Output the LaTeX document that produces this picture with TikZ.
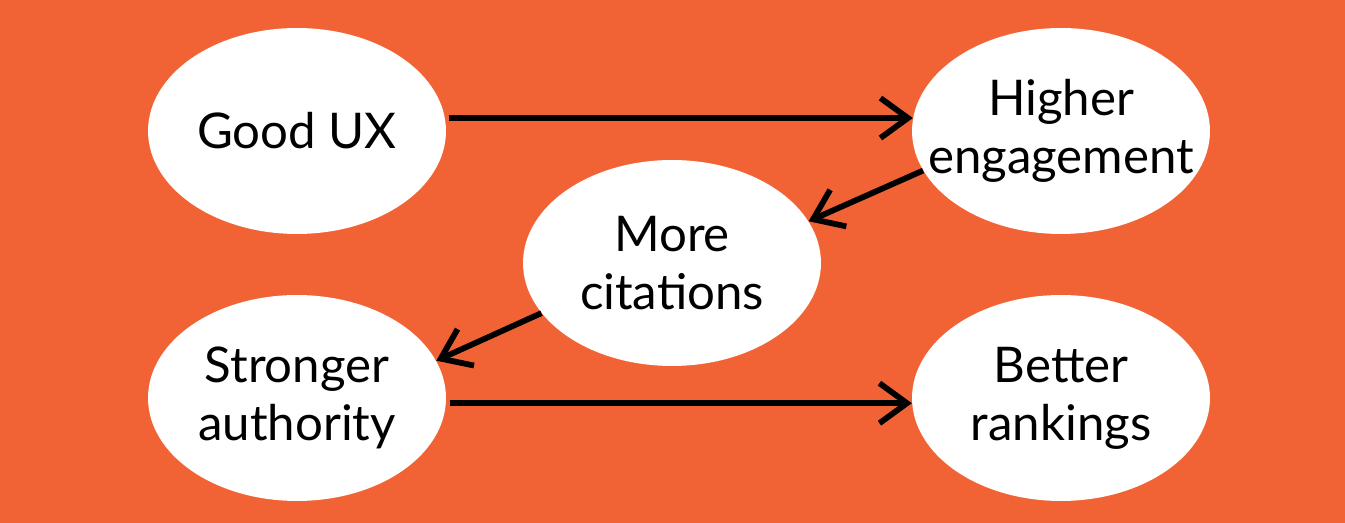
\documentclass[tikz,border=0pt]{standalone}
\usepackage{fontspec}
\setmainfont{Lato}
\usetikzlibrary{shapes.geometric,arrows.meta}
\definecolor{bgorange}{RGB}{241,99,53}
\tikzstyle{bubble} = [ellipse, fill=white, minimum width=5.96cm, minimum height=4.12cm, inner sep=0pt]
\tikzstyle{txt} = [align=center, font=\fontsize{28}{33}\selectfont]
\tikzstyle{link} = [line width=3.3pt, -{Straight Barb[length=5.5mm,width=8mm]}]

\begin{document}
\begin{tikzpicture}[x=0.02cm,y=0.02cm]
\fill[bgorange] (0,0) rectangle (1345,523);
\node[bubble] (gux) at (297,392) {};
\node[bubble] (he) at (1061,392) {};
\node[bubble] (mc) at (672,260) {};
\node[bubble] (sa) at (297,125) {};
\node[bubble] (br) at (1061,125) {};
\node[txt] (gux-t) at (gux) {Good UX};
\node[txt] (he-t) at (he) {Higher\\engagement};
\node[txt] (mc-t) at (mc) {More\\citations};
\node[txt] (sa-t) at (sa) {Stronger\\authority};
\node[txt] (br-t) at (br) {Better\\rankings};
\draw[link, shorten <=2pt] (gux.5) -- (he.175);
\draw[link] (he.196) -- (mc.17);
\draw[link] (mc.201) -- (sa.15);
\draw[link, shorten <=2pt] (sa.-2) -- (br.182);
\end{tikzpicture}
\end{document}
